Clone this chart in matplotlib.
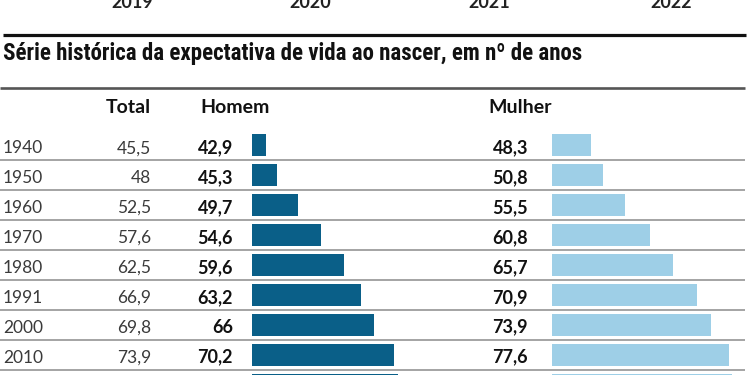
import matplotlib
matplotlib.use('Agg')
import matplotlib.pyplot as plt
from matplotlib import font_manager as fm

# ---------------- data ----------------
years = ['1940', '1950', '1960', '1970', '1980', '1991', '2000', '2010', '2012']
total = [45.5, 48, 52.5, 57.6, 62.5, 66.9, 69.8, 73.9, 74.6]
homem = [42.9, 45.3, 49.7, 54.6, 59.6, 63.2, 66, 70.2, 71.0]
mulher = [48.3, 50.8, 55.5, 60.8, 65.7, 70.9, 73.9, 77.6, 78.3]
top_years = ['2019', '2020', '2021', '2022']
title = 'Série histórica da expectativa de vida ao nascer, em nº de anos'
headers = ['Total', 'Homem', 'Mulher']

# ---------------- fonts ----------------
avail = {f.name for f in fm.fontManager.ttflist}


def pick(*names):
    for n in names:
        if n in avail:
            return n
    return 'DejaVu Sans'


COND = pick('Liberation Sans Narrow', 'Roboto Condensed', 'Open Sans Condensed', 'DejaVu Sans')
BODY = pick('Lato', 'Open Sans', 'Noto Sans', 'DejaVu Sans')


def fmt(v):
    s = f'{v:.1f}'
    if s.endswith('.0'):
        s = s[:-2]
    return s.replace('.', ',')


# ---------------- layout ----------------
W, H = 750, 375
fig = plt.figure(figsize=(7.5, 3.75), dpi=100)
ROW0, STEP = 145.3, 29.9


def py(p):
    return (p - ROW0) / STEP


ax = fig.add_axes([0, 0, 1, 1])
ax.set_xlim(0, W)
ax.set_ylim(py(H), py(0))
ax.axis('off')

SCALE, XMIN, XMAX = 4.7, 40, 80
HOMEM_C = '#0a5f88'
MULHER_C = '#9ecfe7'
rows = list(range(len(years)))

axH = fig.add_axes([252 / W, 0, SCALE * (XMAX - XMIN) / W, 1], sharey=ax)
axH.set_xlim(XMIN, XMAX)
axH.axis('off')
axH.barh(rows, homem, height=0.73, color=HOMEM_C)

axM = fig.add_axes([552 / W, 0, SCALE * (XMAX - XMIN) / W, 1], sharey=ax)
axM.set_xlim(XMIN, XMAX)
axM.axis('off')
axM.barh(rows, mulher, height=0.73, color=MULHER_C)
ax.set_ylim(py(H), py(0))

# rules
ax.hlines(py(35), 3, 746, lw=2.3, color='#111111')
ax.hlines(py(88.5), 0, 745, lw=1.9, color='#555555')
for i in rows:
    ax.hlines(i + 0.5, 0, 745, lw=1.1, color='#8c8c8c')

# top year labels (cut off by the top edge, as in the reference)
for x, t in zip([132, 310, 489, 671], top_years):
    ax.text(x, py(8), t, ha='center', va='baseline', fontsize=13,
            fontweight='bold', color='#222222', family=BODY)

# title
ax.text(3, py(60), title, ha='left', va='baseline', fontsize=16.5,
        fontweight='bold', color='#111111', family=COND)

# headers
ax.text(151, py(113), headers[0], ha='right', va='baseline', fontsize=14,
        fontweight='bold', color='#111111', family=BODY)
ax.text(200, py(113), headers[1], ha='left', va='baseline', fontsize=14,
        fontweight='bold', color='#111111', family=BODY)
ax.text(488, py(113), headers[2], ha='left', va='baseline', fontsize=14,
        fontweight='bold', color='#111111', family=BODY)

base = 8 / STEP
for i, (y, t, h, m) in enumerate(zip(years, total, homem, mulher)):
    ax.text(3, i + base, y, ha='left', va='baseline', fontsize=12.5,
            fontweight='normal', color='#3a3a3a', family=BODY)
    ax.text(151, i + base, fmt(t), ha='right', va='baseline', fontsize=12.5,
            fontweight='normal', color='#3a3a3a', family=BODY)
    ax.text(233, i + base, fmt(h), ha='right', va='baseline', fontsize=13,
            fontweight='bold', color='#111111', family=BODY)
    ax.text(528, i + base, fmt(m), ha='right', va='baseline', fontsize=13,
            fontweight='bold', color='#111111', family=BODY)

fig.savefig('out.png', dpi=100)
